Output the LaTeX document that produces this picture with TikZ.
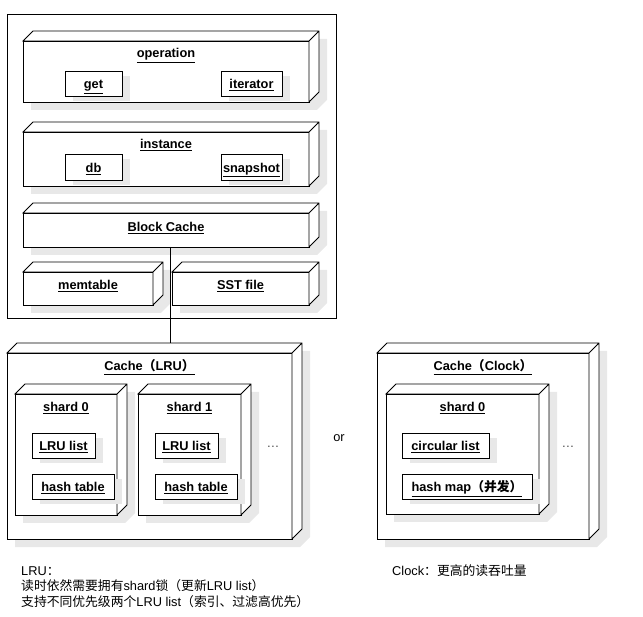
\documentclass[tikz,border=0pt]{standalone}
\usepackage{fontspec}
\setmainfont{Liberation Sans}
\newfontfamily\cjk{Noto Sans CJK SC}
\definecolor{umlInk}{HTML}{000000}
\definecolor{umlShade}{HTML}{E8E8E8}
\usetikzlibrary{positioning,shadows,calc}
% UML node with 3D faces and a drop shadow: name, x1, y1, x2, y2 (front face, y downward)
\newcommand\solid[5]{%
  \fill[sil] (#2+8,-#3-8) -- (#2+18,-#3+2) -- (#4+18,-#3+2) -- (#4+18,-#5+2)
    -- (#4+8,-#5-8) -- (#2+8,-#5-8) -- cycle;
  \node[nfront,minimum width=#4-#2,minimum height=#5-#3] (#1) at ({(#2+#4)/2},{-(#3+#5)/2}) {};
  \draw[nface] (#1.north west) -- ++(10,10) -- ([shift={(10,10)}]#1.north east)
    -- ([shift={(10,10)}]#1.south east) -- (#1.south east) -- (#1.north east) -- cycle
    (#1.north east) -- ++(10,10);
}
\newcommand\ulbl[1]{\underline{#1}}

\begin{document}
\begin{tikzpicture}[
  x=1pt,y=1pt,
  font=\fontsize{12.8}{15.5}\selectfont,
  nfront/.style={draw=umlInk,line width=0.8pt,fill=white,inner sep=0pt,outer sep=0pt},
  nface/.style={draw=umlInk,line width=0.8pt,fill=white},
  sil/.style={fill=umlShade},
  part/.style={draw=umlInk,line width=0.8pt,fill=white,inner sep=0pt,outer sep=0pt,
               text height=12pt,text depth=1pt,
               font=\fontsize{12.8}{15.5}\selectfont\bfseries,
               general shadow={fill=umlShade,shadow xshift=8pt,shadow yshift=-5pt}},
  ttl/.style={font=\fontsize{12.8}{15.5}\selectfont\bfseries,inner sep=0pt,anchor=base},
  note/.style={inner sep=0pt,align=left,anchor=base west}
]
\useasboundingbox (0,0) rectangle (643,-617);
% storage engine frame
\node[draw=umlInk,line width=0.8pt,outer sep=0pt,minimum width=329,minimum height=304] (engine) at (171.5,-166) {};
% operation
\solid{op}{23}{41}{309}{102}
\node[ttl] (op-t) at ([yshift=-17pt]op.north) {\ulbl{operation}};
\node[part,minimum width=57,minimum height=25] (get) at (93.5,-83.5) {\ulbl{get}};
\node[part,minimum width=61,minimum height=25] (iter) at (251.5,-83.5) {\ulbl{iterator}};
% instance
\solid{inst}{23}{132}{309}{186}
\node[ttl] (inst-t) at ([yshift=-17pt]inst.north) {\ulbl{instance}};
\node[part,minimum width=57,minimum height=26] (db) at (93.5,-167) {\ulbl{db}};
\node[part,minimum width=61,minimum height=26] (snap) at (251.5,-167) {\ulbl{snapshot}};
% block cache and storage
\solid{bc}{23}{213}{309}{247}
\node[ttl] (bc-t) at ([yshift=-18.5pt]bc.north) {\ulbl{Block Cache}};
\solid{mem}{23}{272}{153}{305}
\node[ttl] (mem-t) at ([yshift=-17.5pt]mem.north) {\ulbl{memtable}};
\solid{sst}{172}{272}{309}{305}
\node[ttl] (sst-t) at ([yshift=-17.5pt]sst.north) {\ulbl{SST file}};
% cache (LRU)
\solid{lru}{7}{353}{292}{539}
\node[ttl] (lru-t) at ([yshift=-18pt]lru.north) {\ulbl{Cache{\cjk （}LRU{\cjk ）}}};
\solid{sh0}{15}{394}{117}{515}
\node[ttl] (sh0-t) at ([yshift=-18pt]sh0.north) {\ulbl{shard 0}};
\node[part,minimum width=63,minimum height=25] (sh0-list) at (63.5,-445.5) {\ulbl{LRU list}};
\node[part,minimum width=82,minimum height=25] (sh0-hash) at (73,-486.5) {\ulbl{hash table}};
\solid{sh1}{138}{394}{241}{515}
\node[ttl] (sh1-t) at ([yshift=-18pt]sh1.north) {\ulbl{shard 1}};
\node[part,minimum width=63,minimum height=25] (sh1-list) at (186.5,-445.5) {\ulbl{LRU list}};
\node[part,minimum width=82,minimum height=25] (sh1-hash) at (196,-486.5) {\ulbl{hash table}};
\node[text=black!70] (lru-more) at (273,-447) {\dots};
% link
\coordinate (bclink) at ([xshift=4pt]bc.south);
\coordinate (lrutop) at ([yshift=10pt]lru.north);
\draw[draw=umlInk,line width=0.8pt] (bclink) -- (bclink |- lrutop);
\node (alt) at (339,-438) {or};
% cache (Clock)
\solid{clk}{377}{353}{589}{539}
\node[ttl] (clk-t) at ([yshift=-18pt]clk.north) {\ulbl{Cache{\cjk （}Clock{\cjk ）}}};
\solid{csh0}{386}{394}{539}{514}
\node[ttl] (csh0-t) at ([yshift=-18pt]csh0.north) {\ulbl{shard 0}};
\node[part,minimum width=87,minimum height=25] (csh0-list) at (445.5,-445.5) {\ulbl{circular list}};
\node[part,minimum width=130,minimum height=25] (csh0-hash) at (467,-486.5) {\ulbl{hash map{\cjk （并发）}}};
\node[text=black!70] (clk-more) at (568,-447) {\dots};
% notes
\node[note] (lru-note) at (21,-606) {LRU{\cjk ：}\\
  {\cjk 读时依然需要拥有}shard{\cjk 锁（更新}LRU list{\cjk ）}\\
  {\cjk 支持不同优先级两个}LRU list{\cjk （索引、过滤高优先）}};
\node[note] (clk-note) at (392,-575) {Clock{\cjk ：更高的读吞吐量}};
\end{tikzpicture}
\end{document}
